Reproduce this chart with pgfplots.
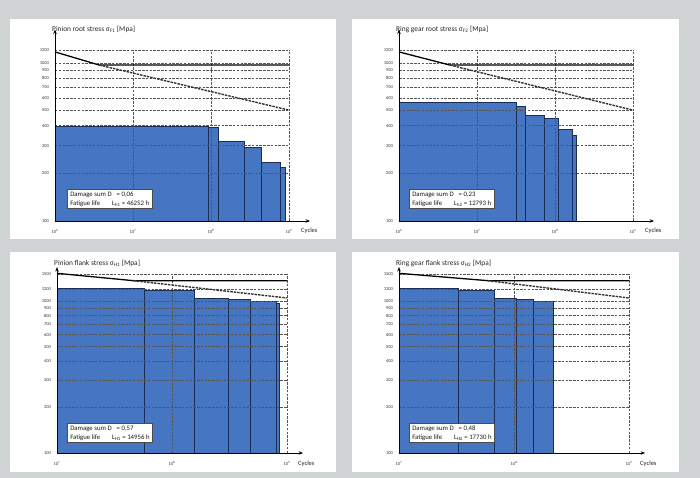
\documentclass[border=0pt]{standalone}
\usepackage{pgfplots}
\pgfplotsset{compat=1.18}
\usepackage{fontspec}
\setmainfont{Carlito}
\usetikzlibrary{arrows.meta}
\definecolor{bg}{RGB}{208,211,212}
\definecolor{barblue}{RGB}{70,118,193}
\definecolor{bardraw}{RGB}{25,45,85}
\definecolor{gridc}{RGB}{85,85,85}
\pgfplotsset{
  mydeco/.style={
    axis on top, axis lines=left,
    axis line style={draw=none},
    grid=major,
    major grid style={gridc, line width=0.8pt, dash pattern=on 2.5pt off 1.3pt},
    major tick length=0pt, minor tick length=0pt,
    tick label style={font=\fontsize{4.5}{5}\selectfont, text=black!80},
    yticklabel style={xshift=-2.5bp},
    xticklabel style={yshift=-5bp},
    title style={at={(axis description cs:0,1)}, anchor=base west, xshift=-3bp,
      font=\fontsize{7.4}{8}\selectfont, inner sep=0pt, text=black!85},
    xlabel={Cycles},
    xlabel style={at={(axis description cs:1,0)}, anchor=base west, inner sep=0pt,
      font=\fontsize{6.5}{7}\selectfont, text=black!85},
  },
  mytopdeco/.style={mydeco,
    ytick={100,200,300,400,500,600,700,800,900,1000,1200},
    yticklabels={100,200,300,400,500,600,700,800,900,1000,1200},
    xtick={1e6,1e7,1e8,1e9},
    xticklabels={10\textsuperscript{6},10\textsuperscript{7},10\textsuperscript{8},10\textsuperscript{9}},
    title style={yshift=13bp},
    xlabel style={xshift=12bp, yshift=-12bp},
  },
  mybotdeco/.style={mydeco,
    ytick={100,200,300,400,500,600,700,800,900,1000,1200,1500},
    yticklabels={100,200,300,400,500,600,700,800,900,1000,1200,1500},
    xtick={1e7,1e8,1e9},
    xticklabels={10\textsuperscript{7},10\textsuperscript{8},10\textsuperscript{9}},
    title style={yshift=3bp},
    xlabel style={xshift=11bp, yshift=-13bp},
  },
  mybar/.style={fill=barblue, draw=bardraw, line width=0.5pt, no marks},
  mysolid/.style={black, line width=1.3pt, no marks},
  mydash/.style={black!80, line width=1.4pt, dash pattern=on 2.5pt off 1pt, no marks},
}
\tikzset{
  myboxsty/.style={draw=black!70, fill=white, line width=0.5pt, inner xsep=3bp, inner ysep=2bp, anchor=west,
    font=\fontsize{6.8}{9}\selectfont, align=left, text=black!90},
  myaxline/.style={black, line width=0.9pt, -{Stealth[length=4.5bp,width=3.5bp]}},
}
\begin{document}
\begin{tikzpicture}[x=1bp,y=1bp]
\fill[bg] (0,0) rectangle (700,478);
\fill[white] (9.5,239) rectangle (336,459);
\fill[white] (352,239) rectangle (679,459);
\fill[white] (9.5,6) rectangle (336,226);
\fill[white] (352,6) rectangle (679,226);

% ---- top left: pinion root
\begin{axis}[xmode=log, ymode=log, scale only axis, width=234bp, height=170.5bp,
  xmin=1e6, xmax=1e9, ymin=100, ymax=1200, mytopdeco,
  anchor=south west, at={(55bp,257bp)}, title={Pinion root stress σ\textsubscript{F1} [Mpa]}]
\addplot[mybar] coordinates {(1e6,100) (1e6,400) (9.1e7,400) (9.1e7,100)} -- cycle;
\addplot[mybar] coordinates {(9.1e7,100) (9.1e7,394) (1.23e8,394) (1.23e8,100)} -- cycle;
\addplot[mybar] coordinates {(1.23e8,100) (1.23e8,321) (2.65e8,321) (2.65e8,100)} -- cycle;
\addplot[mybar] coordinates {(2.65e8,100) (2.65e8,294) (4.4e8,294) (4.4e8,100)} -- cycle;
\addplot[mybar] coordinates {(4.4e8,100) (4.4e8,236) (7.7e8,236) (7.7e8,100)} -- cycle;
\addplot[mybar] coordinates {(7.7e8,100) (7.7e8,220) (8.9e8,220) (8.9e8,100)} -- cycle;
\end{axis}
\begin{axis}[xmode=log, ymode=log, scale only axis, width=234bp, height=170.5bp,
  xmin=1e6, xmax=1e9, ymin=100, ymax=1200, hide axis, clip=false, anchor=south west, at={(55bp,257bp)}]
\addplot[mysolid] coordinates {(1e6,1175) (3.7e6,970) (1e9,970)};
\addplot[mydash] coordinates {(3.7e6,970) (1e9,503)};
\draw[myaxline] (rel axis cs:0,0) -- (rel axis cs:1.09,0);
\draw[myaxline] (rel axis cs:0,0) -- (rel axis cs:0,1.123);
\end{axis}
\node[myboxsty] at (67,279) {Damage sum D\hspace{5bp}= 0,06\\Fatigue life\hspace{12bp}L\textsubscript{h1} = 46252 h};

% ---- top right: ring gear root
\begin{axis}[xmode=log, ymode=log, scale only axis, width=234bp, height=170.5bp,
  xmin=1e6, xmax=1e9, ymin=100, ymax=1200, mytopdeco,
  anchor=south west, at={(399bp,257bp)}, title={Ring gear root stress σ\textsubscript{F2} [Mpa]}]
\addplot[mybar] coordinates {(1e6,100) (1e6,566) (3.2e7,566) (3.2e7,100)} -- cycle;
\addplot[mybar] coordinates {(3.2e7,100) (3.2e7,535) (4.1e7,535) (4.1e7,100)} -- cycle;
\addplot[mybar] coordinates {(4.1e7,100) (4.1e7,469) (7.2e7,469) (7.2e7,100)} -- cycle;
\addplot[mybar] coordinates {(7.2e7,100) (7.2e7,447) (1.1e8,447) (1.1e8,100)} -- cycle;
\addplot[mybar] coordinates {(1.1e8,100) (1.1e8,381) (1.66e8,381) (1.66e8,100)} -- cycle;
\addplot[mybar] coordinates {(1.66e8,100) (1.66e8,350) (1.86e8,350) (1.86e8,100)} -- cycle;
\end{axis}
\begin{axis}[xmode=log, ymode=log, scale only axis, width=234bp, height=170.5bp,
  xmin=1e6, xmax=1e9, ymin=100, ymax=1200, hide axis, clip=false, anchor=south west, at={(399bp,257bp)}]
\addplot[mysolid] coordinates {(1e6,1175) (4.5e6,970) (1e9,970)};
\addplot[mydash] coordinates {(4.5e6,970) (1e9,503)};
\draw[myaxline] (rel axis cs:0,0) -- (rel axis cs:1.09,0);
\draw[myaxline] (rel axis cs:0,0) -- (rel axis cs:0,1.123);
\end{axis}
\node[myboxsty] at (409,279) {Damage sum D\hspace{5bp}= 0,23\\Fatigue life\hspace{12bp}L\textsubscript{h2} = 12793 h};

% ---- bottom left: pinion flank
\begin{axis}[xmode=log, ymode=log, scale only axis, width=230bp, height=178.8bp,
  xmin=1e7, xmax=1e9, ymin=100, ymax=1500, mybotdeco,
  anchor=south west, at={(57bp,25bp)}, title={Pinion flank stress σ\textsubscript{H1} [Mpa]}]
\addplot[mybar] coordinates {(1e7,100) (1e7,1205) (5.7e7,1205) (5.7e7,100)} -- cycle;
\addplot[mybar] coordinates {(5.7e7,100) (5.7e7,1175) (1.56e8,1175) (1.56e8,100)} -- cycle;
\addplot[mybar] coordinates {(1.56e8,100) (1.56e8,1046) (3.09e8,1046) (3.09e8,100)} -- cycle;
\addplot[mybar] coordinates {(3.09e8,100) (3.09e8,1031) (4.83e8,1031) (4.83e8,100)} -- cycle;
\addplot[mybar] coordinates {(4.83e8,100) (4.83e8,995) (8.0e8,995) (8.0e8,100)} -- cycle;
\addplot[mybar] coordinates {(8.0e8,100) (8.0e8,960) (8.6e8,960) (8.6e8,100)} -- cycle;
\end{axis}
\begin{axis}[xmode=log, ymode=log, scale only axis, width=230bp, height=178.8bp,
  xmin=1e7, xmax=1e9, ymin=100, ymax=1500, hide axis, clip=false, anchor=south west, at={(57bp,25bp)}]
\addplot[mysolid] coordinates {(1e7,1520) (4.6e7,1360) (1e9,1360)};
\addplot[mydash] coordinates {(4.6e7,1360) (1e9,1046)};
\draw[myaxline] (rel axis cs:0,0) -- (rel axis cs:1.07,0);
\draw[myaxline] (rel axis cs:0,0) -- (rel axis cs:0,1.04);
\end{axis}
\node[myboxsty] at (67,45) {Damage sum D\hspace{5bp}= 0,57\\Fatigue life\hspace{12bp}L\textsubscript{H1} = 14956 h};

% ---- bottom right: ring gear flank
\begin{axis}[xmode=log, ymode=log, scale only axis, width=230bp, height=178.8bp,
  xmin=1e7, xmax=1e9, ymin=100, ymax=1500, mybotdeco,
  anchor=south west, at={(399bp,25bp)}, title={Ring gear flank stress σ\textsubscript{H2} [Mpa]}]
\addplot[mybar] coordinates {(1e7,100) (1e7,1205) (3.3e7,1205) (3.3e7,100)} -- cycle;
\addplot[mybar] coordinates {(3.3e7,100) (3.3e7,1175) (6.7e7,1175) (6.7e7,100)} -- cycle;
\addplot[mybar] coordinates {(6.7e7,100) (6.7e7,1045) (1.05e8,1045) (1.05e8,100)} -- cycle;
\addplot[mybar] coordinates {(1.05e8,100) (1.05e8,1025) (1.46e8,1025) (1.46e8,100)} -- cycle;
\addplot[mybar] coordinates {(1.46e8,100) (1.46e8,995) (2.2e8,995) (2.2e8,100)} -- cycle;
\end{axis}
\begin{axis}[xmode=log, ymode=log, scale only axis, width=230bp, height=178.8bp,
  xmin=1e7, xmax=1e9, ymin=100, ymax=1500, hide axis, clip=false, anchor=south west, at={(399bp,25bp)}]
\addplot[mysolid] coordinates {(1e7,1520) (5.9e7,1360) (1e9,1360)};
\addplot[mydash] coordinates {(5.9e7,1360) (1e9,1046)};
\draw[myaxline] (rel axis cs:0,0) -- (rel axis cs:1.07,0);
\draw[myaxline] (rel axis cs:0,0) -- (rel axis cs:0,1.04);
\end{axis}
\node[myboxsty] at (409,45) {Damage sum D\hspace{5bp}= 0,48\\Fatigue life\hspace{12bp}L\textsubscript{H2} = 17730 h};
\end{tikzpicture}
\end{document}
